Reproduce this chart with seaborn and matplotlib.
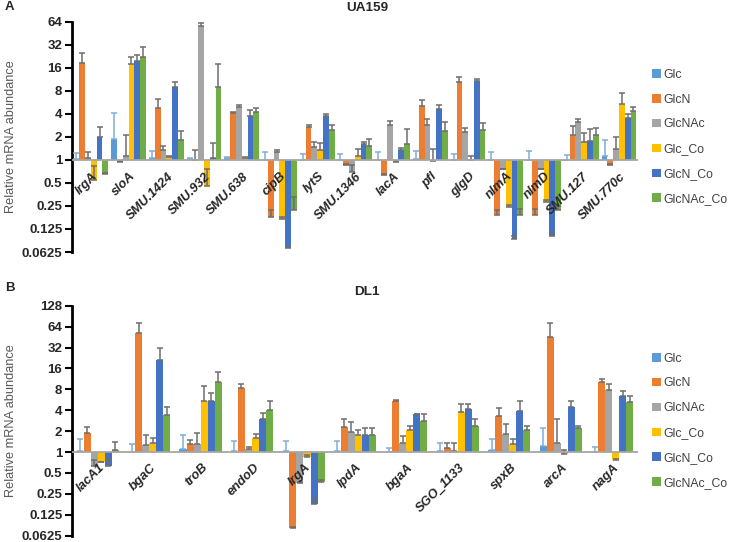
import numpy as np
import pandas as pd
import matplotlib
matplotlib.use('Agg')
import matplotlib.pyplot as plt
import seaborn as sns

sns.set_style('ticks')
plt.rcParams['font.family'] = ['Liberation Sans', 'DejaVu Sans']

# conditions and colours (Excel office palette)
conditions = ['Glc', 'GlcN', 'GlcNAc', 'Glc_Co', 'GlcN_Co', 'GlcNAc_Co']
colors = ['#5B9BD5', '#ED7D31', '#A5A5A5', '#FFC000', '#4472C4', '#70AD47']

# ---- panel A : UA159 ----
genes_a = ['lrgA', 'sloA', 'SMU.1424', 'SMU.932', 'SMU.638', 'cipB', 'lytS', 'SMU.1346',
           'lacA', 'pfl', 'glgD', 'nlmA', 'nlmD', 'SMU.127', 'SMU.770c']
a_glc = [1.03, 1.85, 1.05, 1.03, 1.05, 1.0, 1.0, 1.0, 1.0, 1.02, 1.0, 1.0, 1.0, 1.0, 1.14]
a_glcn = [18.4, 0.95, 4.74, 1.0, 4.08, 0.177, 2.73, 0.86, 0.64, 5.1, 10.4, 0.19, 0.19, 2.12, 0.86]
a_glcnac = [1.05, 1.13, 1.35, 57, 4.97, 1.25, 1.46, 0.69, 2.9, 2.84, 2.3, 0.75, 0.75, 3.1, 1.39]
a_glc_co = [0.54, 17.7, 1.1, 0.45, 1.05, 0.17, 1.35, 1.14, 0.95, 0.96, 1.0, 0.24, 0.28, 1.7, 5.3]
a_glcn_co = [2.0, 19.4, 9.1, 1.05, 3.77, 0.071, 3.7, 1.59, 1.33, 4.6, 10.7, 0.092, 0.1, 1.74, 3.5]
a_glcnac_co = [0.66, 22, 1.83, 9.1, 4.2, 0.22, 2.47, 1.54, 1.62, 2.4, 2.47, 0.19, 0.22, 2.12, 4.3]

a_glc_err = [0.19, 2.25, 0.25, 0.02, 0.03, 0.25, 0.2, 0.2, 0.26, 0.28, 0.2, 0.25, 0.3, 0.17, 0.69]
a_glcn_err = [6.6, 0.02, 1.46, 0.35, 0.12, 0.043, 0.17, 0.02, 0.02, 0.9, 1.7, 0.03, 0.04, 0.64, 0.02]
a_glcnac_err = [0.21, 0.97, 0.15, 5, 0.23, 0.08, 0.24, 0.18, 0.3, 0.56, 0.3, 0.02, 0.02, 0.35, 0.61]
a_glc_co_err = [0.29, 4.3, 0.03, 0.3, 0.05, 0.008, 0.3, 0.25, 0.02, 0.42, 0.14, 0.02, 0.02, 0.55, 2.2]
a_glcn_co_err = [0.67, 4.2, 1.4, 0.62, 0.78, 0.002, 0.3, 0.11, 0.09, 0.65, 0.8, 0.008, 0.01, 0.81, 0.5]
a_glcnac_co_err = [0.02, 8, 0.54, 8.9, 0.5, 0.11, 0.38, 0.34, 0.93, 0.7, 0.58, 0.04, 0.03, 0.48, 0.6]

# ---- panel B : DL1 ----
genes_b = ['lacA1', 'bgaC', 'troB', 'endoD', 'lrgA', 'lpdA', 'bgaA', 'SGO_1133',
           'spxB', 'arcA', 'nagA']
b_glc = [1.05, 1.0, 1.09, 1.03, 1.03, 1.03, 1.0, 1.03, 1.06, 1.22, 1.0]
b_glcn = [1.91, 51.6, 1.29, 8.4, 0.081, 2.26, 5.5, 1.13, 3.3, 45.5, 10.2]
b_glcnac = [0.63, 1.25, 1.32, 1.12, 0.36, 1.95, 1.35, 1.02, 1.85, 1.37, 7.7]
b_glc_co = [0.72, 1.37, 5.47, 1.62, 0.85, 1.75, 2.07, 3.8, 1.32, 0.93, 0.76]
b_glcn_co = [0.63, 21, 5.5, 2.96, 0.177, 1.75, 3.5, 4.1, 3.9, 4.5, 6.45]
b_glcnac_co = [1.08, 3.42, 10.1, 4.04, 0.37, 1.79, 2.8, 2.4, 2.07, 2.23, 5.2]

b_glc_err = [0.51, 0.32, 0.7, 0.4, 0.42, 0.42, 0.13, 0.33, 0.5, 0.98, 0.18]
b_glcn_err = [0.39, 19.4, 0.21, 1.1, 0.002, 0.7, 0.2, 0.2, 1.0, 25.5, 1.1]
b_glcnac_err = [0.13, 0.5, 0.58, 0.08, 0.01, 0.75, 0.35, 0.31, 0.65, 1.63, 1.8]
b_glc_co_err = [0.01, 0.23, 3.33, 0.23, 0.05, 0.3, 0.33, 1.1, 0.24, 0.15, 0.04]
b_glcn_co_err = [0.17, 10, 1.7, 0.69, 0.033, 0.45, 0.02, 0.8, 1.6, 1.0, 1.05]
b_glcnac_co_err = [0.32, 0.98, 4.2, 1.46, 0.03, 0.41, 0.7, 0.6, 0.28, 0.12, 1.25]


def make_long(genes, vals, errs):
    rows = []
    for cond, v, e in zip(conditions, vals, errs):
        for g, vv, ee in zip(genes, v, e):
            rows.append({'gene': g, 'condition': cond, 'value': vv, 'err': ee})
    df = pd.DataFrame(rows)
    df['log2'] = np.log2(df['value'])
    df['log2_err'] = np.log2(df['value'] + df['err']) - df['log2']
    return df


def draw_panel(ax, df, genes, ymax, width, label_y):
    sns.barplot(data=df, x='gene', y='log2', hue='condition', order=genes,
                hue_order=conditions, palette=colors, saturation=1, width=width,
                gap=0, errorbar=None, linewidth=0, ax=ax)
    # plus-only error bars, as in the original Excel chart
    bar_conts = list(ax.containers)
    for i, cont in enumerate(bar_conts):
        sub = df[df['condition'] == conditions[i]].set_index('gene').loc[genes]
        xs = [b.get_x() + b.get_width() / 2 for b in cont]
        ec = '#7FAEDC' if i == 0 else '#6E6E6E'
        ax.errorbar(xs, sub['log2'].values,
                    yerr=[np.zeros(len(xs)), sub['log2_err'].values],
                    fmt='none', ecolor=ec, elinewidth=1.1, capsize=2.4, capthick=1.1,
                    zorder=3)
    ax.axhline(0, color='#A6A6A6', lw=1.3, zorder=4)
    ax.set_xlim(-0.5, len(genes) - 0.5)
    ax.set_ylim(-4, ymax)
    ticks = np.arange(-4, ymax + 1)
    ax.set_yticks(ticks)
    ax.set_yticklabels([f'{2.0 ** t:g}' for t in ticks], fontweight='bold', fontsize=9.5)
    ax.tick_params(axis='y', length=5, width=1.5, pad=2, color='black')
    ax.set_xticks([])
    ax.set_xlabel('')
    for s in ['top', 'right', 'bottom']:
        ax.spines[s].set_visible(False)
    ax.spines['left'].set_linewidth(2)
    ax.spines['left'].set_color('black')
    ax.set_ylabel('Relative mRNA abundance', fontsize=9.2, color='#595959')
    ax.yaxis.set_label_coords(-0.097, 0.5)
    for i, g in enumerate(genes):
        ax.text(i + 0.02, label_y, g, rotation=45, rotation_mode='anchor', ha='right',
                va='top', fontsize=9.3, fontweight='bold', fontstyle='italic', zorder=5)
    sns.move_legend(ax, 'center left', bbox_to_anchor=(1.025, 0.5), frameon=False,
                    title=None, fontsize=8.8, handlelength=0.7, handleheight=0.7,
                    handletextpad=0.25, labelspacing=1.05, borderaxespad=0,
                    borderpad=0, labelcolor='#404040')


df_a = make_long(genes_a,
                 [a_glc, a_glcn, a_glcnac, a_glc_co, a_glcn_co, a_glcnac_co],
                 [a_glc_err, a_glcn_err, a_glcnac_err, a_glc_co_err, a_glcn_co_err, a_glcnac_co_err])
df_b = make_long(genes_b,
                 [b_glc, b_glcn, b_glcnac, b_glc_co, b_glcn_co, b_glcnac_co],
                 [b_glc_err, b_glcn_err, b_glcnac_err, b_glc_co_err, b_glcn_co_err, b_glcnac_co_err])

fig = plt.figure(figsize=(7.33, 5.42), dpi=100)
ax_a = fig.add_axes([0.0982, 0.535, 0.772, 0.425])
ax_b = fig.add_axes([0.0982, 0.0116, 0.772, 0.4244])

draw_panel(ax_a, df_a, genes_a, 6, 0.92, -0.45)
draw_panel(ax_b, df_b, genes_b, 7, 0.82, -0.45)

fig.text(5 / 733, 1 - 7 / 542, 'A', fontsize=9.5, fontweight='bold', va='center')
fig.text(5 / 733, 1 - 288 / 542, 'B', fontsize=9.5, fontweight='bold', va='center')
fig.text(367 / 733, 1 - 8 / 542, 'UA159', fontsize=9.7, fontweight='bold', ha='center', va='center')
fig.text(367 / 733, 1 - 292 / 542, 'DL1', fontsize=9.7, fontweight='bold', ha='center', va='center')

fig.savefig('out.png', dpi=100)
